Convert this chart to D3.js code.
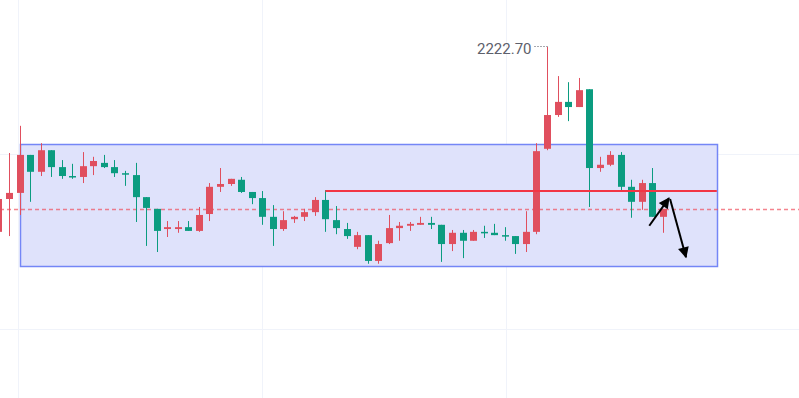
<meta charset="utf-8">
<style>
  body { margin: 0; background: #fff; }
  svg { display: block; }
</style>
<body>
<script src="https://cdn.jsdelivr.net/npm/d3@7"></script>
<script>

    var width  = 799,
        height = 398;

    // candles: open, high, low, close (red = close above open)
    var opens  = [2183.3, 2190.3, 2191.6, 2199.7, 2196.1, 2200.7, 2197.1, 2195.2, 2195.0, 2197.3,
                  2198.0, 2197.1, 2195.8, 2195.4, 2190.7, 2188.2, 2183.9, 2183.9, 2184.3, 2183.5,
                  2187.1, 2192.9, 2193.5, 2194.4, 2191.8, 2190.5, 2186.5, 2183.9, 2186.0, 2186.5,
                  2187.5, 2190.1, 2185.8, 2183.9, 2180.1, 2182.6, 2177.1, 2180.9, 2184.1, 2184.6,
                  2184.8, 2185.2, 2184.8, 2180.7, 2183.1, 2181.4, 2183.3, 2183.1, 2182.6, 2182.4,
                  2180.7, 2183.3, 2201.0, 2208.2, 2211.0, 2209.9, 2213.7, 2196.9, 2197.6, 2199.7,
                  2192.9, 2189.7, 2193.7, 2186.5];
    var highs  = [2190.5, 2200.1, 2205.9, 2199.7, 2202.2, 2200.7, 2198.6, 2197.8, 2200.3, 2199.3,
                  2199.7, 2198.6, 2196.3, 2198.0, 2190.7, 2188.2, 2185.6, 2185.6, 2185.6, 2188.6,
                  2193.7, 2196.9, 2194.6, 2195.0, 2191.8, 2192.0, 2189.0, 2187.7, 2186.7, 2188.2,
                  2190.7, 2192.2, 2188.8, 2185.2, 2183.3, 2182.6, 2181.4, 2186.9, 2185.4, 2185.4,
                  2186.5, 2186.5, 2184.8, 2183.7, 2183.7, 2183.7, 2184.6, 2185.0, 2184.3, 2182.4,
                  2187.7, 2202.2, 2222.7, 2216.5, 2215.2, 2216.1, 2213.7, 2199.3, 2200.5, 2200.3,
                  2194.4, 2194.4, 2196.9, 2188.2];
    var lows   = [2182.6, 2182.4, 2186.9, 2189.7, 2195.2, 2195.0, 2194.6, 2194.6, 2193.7, 2195.4,
                  2196.9, 2195.0, 2193.1, 2185.4, 2180.3, 2179.0, 2182.2, 2183.1, 2183.5, 2183.3,
                  2185.6, 2191.8, 2193.1, 2191.6, 2189.2, 2184.8, 2180.3, 2183.5, 2185.2, 2185.6,
                  2186.7, 2183.3, 2182.8, 2181.8, 2179.6, 2176.5, 2176.5, 2180.7, 2181.4, 2183.5,
                  2184.8, 2183.9, 2176.9, 2179.2, 2177.7, 2181.4, 2182.0, 2182.6, 2181.4, 2178.6,
                  2179.0, 2182.8, 2200.7, 2207.8, 2206.9, 2209.9, 2188.6, 2196.1, 2197.3, 2191.8,
                  2186.3, 2188.0, 2186.5, 2183.1];
    var closes = [2190.3, 2191.6, 2199.7, 2196.1, 2200.7, 2197.1, 2195.2, 2195.0, 2197.3, 2198.4,
                  2197.1, 2195.8, 2195.6, 2190.7, 2188.4, 2183.5, 2184.3, 2184.3, 2183.5, 2186.9,
                  2192.9, 2193.5, 2194.6, 2191.8, 2190.5, 2186.5, 2183.9, 2185.8, 2186.5, 2187.5,
                  2190.1, 2186.0, 2184.1, 2182.4, 2182.6, 2177.1, 2180.7, 2184.1, 2184.6, 2185.0,
                  2185.2, 2184.8, 2180.7, 2183.1, 2181.4, 2183.3, 2183.1, 2182.6, 2182.4, 2180.7,
                  2183.3, 2200.5, 2208.2, 2211.0, 2209.9, 2213.5, 2196.9, 2197.6, 2199.7, 2192.9,
                  2189.7, 2193.7, 2186.5, 2188.2];

    // drawings (bar index, price)
    var rangeBox   = {x0: 2, x1: 68.1, top: 2202.0, bottom: 2176.0};
    var levelLine  = {x0: 31, x1: 68.1, price: 2192.0};
    var arrows     = [
        [[61.7, 2184.6], [63.57, 2190.5]],
        [[63.67, 2190.3], [65.18, 2177.9]]
    ];
    var highLabel  = "2222.70";
    var gridBars   = [1.85, 25, 48.1];
    var gridPrices = [2200, 2162.5];

    var upColor   = "#e04f5e",
        downColor = "#0b9c80";

    var candles = opens.map(function (o, i) {
        return {i: i, open: o, high: highs[i], low: lows[i], close: closes[i]};
    });

    var x = d3.scaleLinear().domain([0, 63]).range([-1.55, 663]);
    var y = d3.scaleLinear().domain([2200, 2222.7]).range([153.5, 47]);

    var svg = d3.select("body")
                .append("svg")
                .attr("width", width)
                .attr("height", height);

    // grid
    svg.selectAll(".vgrid")
       .data(gridBars)
       .enter()
       .append("line")
       .attr("x1", function (d) { return Math.round(x(d)) + 0.5; })
       .attr("x2", function (d) { return Math.round(x(d)) + 0.5; })
       .attr("y1", 0)
       .attr("y2", height)
       .attr("stroke", "#f0f3fa");

    svg.selectAll(".hgrid")
       .data(gridPrices)
       .enter()
       .append("line")
       .attr("x1", 0)
       .attr("x2", width)
       .attr("y1", function (d) { return Math.round(y(d)) + 0.5; })
       .attr("y2", function (d) { return Math.round(y(d)) + 0.5; })
       .attr("stroke", "#f0f3fa");

    // rectangle
    svg.append("rect")
       .attr("x", Math.round(x(rangeBox.x0)) + 0.5)
       .attr("y", Math.round(y(rangeBox.top)) + 0.5)
       .attr("width", Math.round(x(rangeBox.x1) - x(rangeBox.x0)))
       .attr("height", Math.round(y(rangeBox.bottom) - y(rangeBox.top)))
       .attr("fill", "#dfe2fb")
       .attr("stroke", "#7486f6")
       .attr("stroke-width", 1.5);

    // last price line
    var last = closes[closes.length - 1];
    svg.append("line")
       .attr("x1", 0)
       .attr("x2", width)
       .attr("y1", Math.round(y(last)) + 0.5)
       .attr("y2", Math.round(y(last)) + 0.5)
       .attr("stroke", "#f0505e")
       .attr("stroke-opacity", 0.7)
       .attr("stroke-width", 1.5)
       .attr("stroke-dasharray", "4,3");

    // candles
    var c = svg.selectAll(".candle")
               .data(candles)
               .enter()
               .append("g")
               .attr("class", "candle")
               .attr("fill", function (d) { return d.close >= d.open ? upColor : downColor; })
               .attr("stroke", function (d) { return d.close >= d.open ? upColor : downColor; });

    c.append("line")
     .attr("x1", function (d) { return Math.round(x(d.i)) + 0.5; })
     .attr("x2", function (d) { return Math.round(x(d.i)) + 0.5; })
     .attr("y1", function (d) { return y(d.high); })
     .attr("y2", function (d) { return y(d.low); })
     .attr("stroke-width", 1);

    c.append("rect")
     .attr("x", function (d) { return Math.round(x(d.i)) - 3; })
     .attr("width", 7)
     .attr("y", function (d) { return y(Math.max(d.open, d.close)); })
     .attr("height", function (d) { return Math.max(1.5, Math.abs(y(d.open) - y(d.close))); })
     .attr("stroke", "none");

    // horizontal level
    svg.append("line")
       .attr("x1", x(levelLine.x0))
       .attr("x2", x(levelLine.x1))
       .attr("y1", Math.round(y(levelLine.price)))
       .attr("y2", Math.round(y(levelLine.price)))
       .attr("stroke", "#f23645")
       .attr("stroke-width", 2);

    // arrows
    svg.append("defs")
       .append("marker")
       .attr("id", "head")
       .attr("viewBox", "0 0 10 10")
       .attr("refX", 9)
       .attr("refY", 5)
       .attr("markerWidth", 6.5)
       .attr("markerHeight", 5.5)
       .attr("orient", "auto")
       .append("path")
       .attr("d", "M0,0L10,5L0,10z")
       .attr("fill", "#000");

    svg.selectAll(".arrow")
       .data(arrows)
       .enter()
       .append("line")
       .attr("x1", function (d) { return x(d[0][0]); })
       .attr("y1", function (d) { return y(d[0][1]); })
       .attr("x2", function (d) { return x(d[1][0]); })
       .attr("y2", function (d) { return y(d[1][1]); })
       .attr("stroke", "#000")
       .attr("stroke-width", 2)
       .attr("marker-end", "url(#head)");

    // high label
    var hi = d3.maxIndex(highs);
    var hx = Math.round(x(hi)) + 0.5,
        hy = y(highs[hi]);

    svg.append("line")
       .attr("x1", hx - 13)
       .attr("x2", hx)
       .attr("y1", Math.round(hy) - 0.5)
       .attr("y2", Math.round(hy) - 0.5)
       .attr("stroke", "#50535e")
       .attr("stroke-dasharray", "1,2");

    svg.append("text")
       .attr("x", hx - 16)
       .attr("y", hy + 7)
       .attr("text-anchor", "end")
       .attr("font-family", "Roboto, sans-serif")
       .attr("font-size", 15)
       .attr("fill", "#5d606b")
       .text(highLabel);

</script>
</body>
